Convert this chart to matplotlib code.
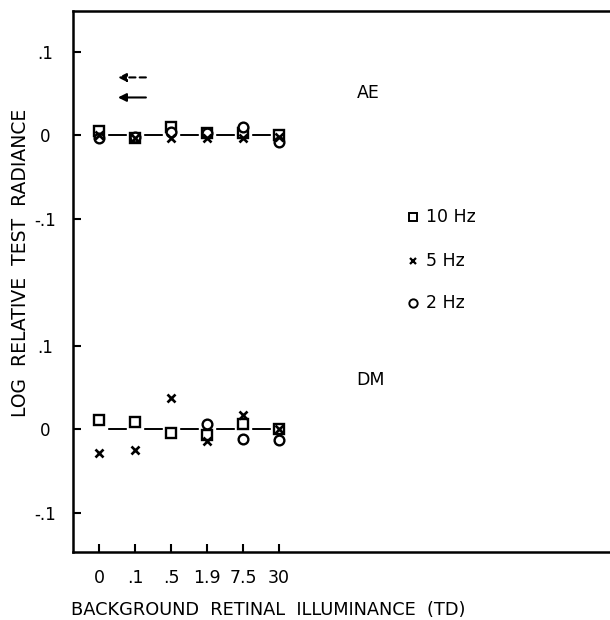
import numpy as np
import matplotlib
matplotlib.use("Agg")
import matplotlib.pyplot as plt

# background retinal illuminance (td), equally spaced on the axis
x_labels = ["0", ".1", ".5", "1.9", "7.5", "30"]

# log relative test radiance, observer AE
ae_10hz = [0.005, -0.004, 0.010, 0.002, 0.002, 0.000]
ae_5hz = [0.000, -0.003, -0.003, -0.004, -0.004, -0.002]
ae_2hz = [-0.003, -0.002, 0.004, 0.002, 0.010, -0.008]

# observer DM
dm_10hz = [0.011, 0.009, -0.005, -0.007, 0.006, 0.000]
dm_5hz = [-0.029, -0.025, 0.037, -0.014, 0.017, 0.000]
dm_2hz = [np.nan, np.nan, np.nan, 0.006, -0.012, -0.013]

# the two panels share one frame; AE sits above DM
ae_offset = 0.352

plt.rcParams["font.family"] = ["DejaVu Sans"]

fig = plt.figure(figsize=(6.1, 6.2), dpi=100)
ax = fig.add_axes([73 / 610, 68 / 620, 545 / 610, 541 / 620])

xs = np.arange(len(x_labels))


def panel(vals10, vals5, vals2, off):
    # reference line at zero with gaps round the points
    ax.plot(xs, np.zeros(len(xs)) + off, color="black", lw=1.4,
            marker="s", ms=11, mfc="white", mec="white", zorder=2)
    ax.plot(xs, np.array(vals10) + off, ls="none", marker="s", ms=7,
            mfc="white", mec="black", mew=1.7, zorder=3)
    ax.plot(xs, np.array(vals2) + off, ls="none", marker="o", ms=7,
            mfc="white", mec="black", mew=1.7, zorder=3)
    ax.plot(xs, np.array(vals5) + off, ls="none", marker="x", ms=6,
            color="black", mew=1.9, zorder=4)


panel(ae_10hz, ae_5hz, ae_2hz, ae_offset)
panel(dm_10hz, dm_5hz, dm_2hz, 0.0)

# arrows near the top left
ax.annotate("", xy=(0.45, ae_offset + 0.069), xytext=(1.38, ae_offset + 0.069),
            arrowprops=dict(arrowstyle="-|>", color="black", lw=1.5,
                            linestyle=(0, (3, 2)), mutation_scale=12))
ax.annotate("", xy=(0.45, ae_offset + 0.045), xytext=(1.38, ae_offset + 0.045),
            arrowprops=dict(arrowstyle="-|>", color="black", lw=1.5,
                            mutation_scale=12))

ax.text(7.15, ae_offset + 0.050, "AE", fontsize=12.5, va="center", ha="left")
ax.text(7.15, 0.059, "DM", fontsize=12.5, va="center", ha="left")

# hand placed key
key_x = 8.72
key_rows = [("s", "10 Hz", -0.098), ("x", "5 Hz", -0.151), ("o", "2 Hz", -0.201)]
for mk, lab, yy in key_rows:
    if mk == "x":
        ax.plot(key_x, ae_offset + yy, marker="x", ms=5, color="black", mew=1.6)
    else:
        ax.plot(key_x, ae_offset + yy, marker=mk, ms=6, mfc="white",
                mec="black", mew=1.4)
    ax.text(key_x + 0.35, ae_offset + yy, lab, fontsize=12.5, va="center", ha="left")

ax.set_xlim(-0.72, 14.4)
ax.set_ylim(-0.147, ae_offset + 0.1485)

ax.set_xticks(xs)
ax.set_xticklabels(x_labels)
yt = [-0.1, 0.0, 0.1, ae_offset - 0.1, ae_offset, ae_offset + 0.1]
ax.set_yticks(yt)
ax.set_yticklabels(["-.1", "0", ".1", "-.1", "0", ".1"], ha="center")
ax.tick_params(direction="in", length=6, width=1.5)
ax.tick_params(axis="x", pad=12, labelsize=12.5)
ax.tick_params(axis="y", pad=20, labelsize=12)

for side in ["left", "bottom", "top"]:
    ax.spines[side].set_linewidth(1.8)
ax.spines["right"].set_visible(False)

fig.text(268 / 610, 1 - 610 / 620, "BACKGROUND  RETINAL  ILLUMINANCE  (TD)",
         fontsize=12.8, ha="center", va="center")
fig.text(21 / 610, 1 - 263 / 620, "LOG  RELATIVE  TEST  RADIANCE",
         fontsize=13.5, ha="center", va="center", rotation=90)

fig.savefig("out.png", dpi=100, facecolor="white")
